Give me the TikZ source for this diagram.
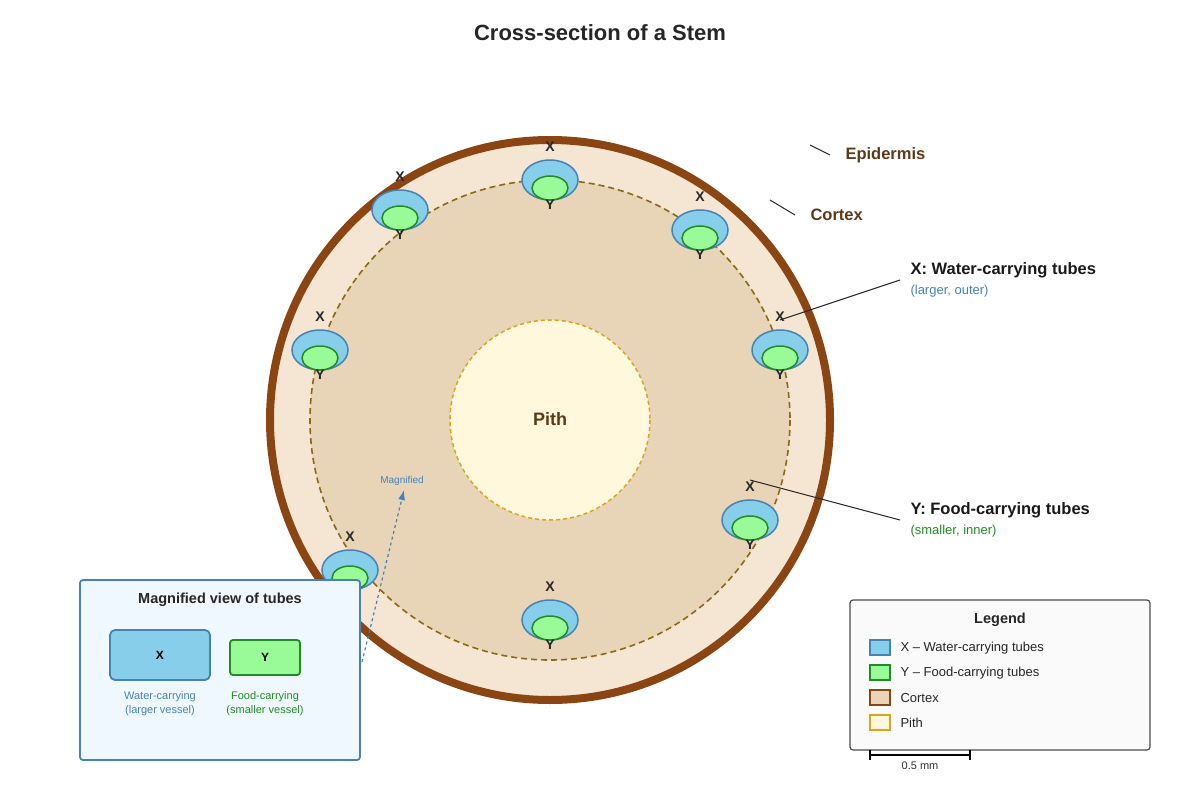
\documentclass[tikz,border=0pt]{standalone}
\usepackage{fontspec}
\setmainfont{Liberation Sans}
\usetikzlibrary{arrows.meta,shapes.geometric}
\definecolor{brn}{HTML}{8B4513}
\definecolor{ctx}{HTML}{E8D5B7}
\definecolor{epi}{HTML}{F5E6D3}
\definecolor{pith}{HTML}{FFF8DC}
\definecolor{pithb}{HTML}{DAA520}
\definecolor{xb}{HTML}{87CEEB}
\definecolor{xs}{HTML}{4682B4}
\definecolor{yg}{HTML}{98FB98}
\definecolor{ys}{HTML}{228B22}
\definecolor{lbl}{HTML}{5C3A1A}
\definecolor{cdash}{HTML}{8B6914}
\definecolor{boxf}{HTML}{F0F8FF}
\begin{document}
\begin{tikzpicture}[x=1pt,y=-1pt,
  fs/.style={font=\fontsize{#1}{#1}\selectfont},
  xtube/.style={ellipse,draw=xs,fill=xb,line width=1.5pt,minimum width=56pt,minimum height=40pt,inner sep=0},
  ytube/.style={ellipse,draw=ys,fill=yg,line width=1.5pt,minimum width=36pt,minimum height=24pt,inner sep=0},
  tl/.style={font=\fontsize{14}{14}\selectfont\bfseries,text=black!85},
  lead/.style={draw=black!85,line width=1pt}]
\useasboundingbox (0,0) rectangle (1200,800);
\node[font=\fontsize{22}{22}\selectfont\bfseries,text=black!85] (title) at (600,33) {Cross-section of a Stem};
\draw[brn,line width=8pt,fill=epi] (550,420) circle (280);
\draw[cdash,line width=1.6pt,dash pattern=on 6pt off 4pt,fill=ctx] (550,420) circle (240);
\draw[pithb,line width=1.5pt,dash pattern=on 4pt off 3pt,fill=pith] (550,420) circle (100);
\node[font=\fontsize{18}{18}\selectfont\bfseries,text=lbl] (pithl) at (550,419) {Pith};
\foreach \n/\px/\py in {a/550/180,b/400/210,c/700/230,d/320/350,e/780/350,f/750/520,g/550/620,h/350/570}{
  \node[xtube] (x\n) at (\px,\py) {};
  \node[ytube] (y\n) at (\px,\py+8) {};
  \node[tl] (xl\n) at (\px,\py-33) {X};
  \node[tl] (yl\n) at (\px,\py+25) {Y};
}
% labels
\coordinate (e1) at (810,145); \coordinate (e2) at (830,155);
\draw[lead] (e1)--(e2);
\node[anchor=west,font=\fontsize{16.5}{16.5}\selectfont\bfseries,text=lbl] (epil) at (842,155) {Epidermis};
\coordinate (c1) at (770,200); \coordinate (c2) at (795,215);
\draw[lead] (c1)--(c2);
\node[anchor=west,font=\fontsize{16.5}{16.5}\selectfont\bfseries,text=lbl] (ctxl) at (807,215) {Cortex};
\node[anchor=west,font=\fontsize{16.5}{16.5}\selectfont\bfseries,text=black!90] (xlab) at (907,270) {X: Water-carrying tubes};
\node[anchor=west,fs=13,text=xs] (xsub) at (907,291) {(larger, outer)};
\coordinate (x1) at (900,280); \coordinate (x2) at (780,320);
\draw[lead] (x1)--(x2);
\node[anchor=west,font=\fontsize{16.5}{16.5}\selectfont\bfseries,text=black!90] (ylab) at (907,510) {Y: Food-carrying tubes};
\node[anchor=west,fs=13,text=ys] (ysub) at (907,531) {(smaller, inner)};
\coordinate (y1) at (900,520); \coordinate (y2) at (750,480);
\draw[lead] (y1)--(y2);
% magnified box
\draw[xs,line width=1.8pt,fill=boxf,rounded corners=3pt] (80,580) rectangle (360,760);
\node[font=\fontsize{14.5}{14.5}\selectfont\bfseries,text=black!85] (mt) at (220,600) {Magnified view of tubes};
\node[draw=xs,fill=xb,line width=1.8pt,rounded corners=5pt,minimum width=100pt,minimum height=50pt,font=\fontsize{12}{12}\selectfont\bfseries] (mx) at (160,655) {X};
\node[draw=ys,fill=yg,line width=1.8pt,rounded corners=3pt,minimum width=70pt,minimum height=35pt,font=\fontsize{12}{12}\selectfont\bfseries] (my) at (265,657.5) {Y};
\node[fs=11,text=xs,align=center] (mxl) at (160,704) {Water-carrying\\[3pt](larger vessel)};
\node[fs=11,text=ys,align=center] (myl) at (265,704) {Food-carrying\\[3pt](smaller vessel)};
\coordinate (m1) at (362,662); \coordinate (m2) at (404,490);
\draw[xs,line width=1.2pt,dash pattern=on 3pt off 3pt,-{Latex[length=10pt,width=7pt]}] (m1)--(m2);
\node[fs=10,text=xs] (mag) at (402,481) {Magnified};
% legend
\draw[black!70,line width=1.2pt,fill=black!2,rounded corners=3pt] (850,600) rectangle (1150,750);
\node[font=\fontsize{14.5}{14.5}\selectfont\bfseries,text=black!85] (lt) at (1000,620) {Legend};
\foreach \i/\fc/\dc/\t in {0/xb/xs/X – Water-carrying tubes,1/yg/ys/Y – Food-carrying tubes,2/ctx/brn/Cortex,3/pith/pithb/Pith}{
  \draw[\dc,line width=1.2pt,fill=\fc] (870,640+25*\i) rectangle (890,655+25*\i);
  \node[anchor=west,fs=13,text=black!85] (lg\i) at (897,648+25*\i) {\t};
}
\coordinate (s1) at (870,755); \coordinate (s2) at (970,755);
\draw[black,line width=1.2pt] (s1)--(s2) (870,750)--(870,760) (970,750)--(970,760);
\node[fs=11,text=black!80] (sl) at (920,766) {0.5 mm};
\end{tikzpicture}
\end{document}
